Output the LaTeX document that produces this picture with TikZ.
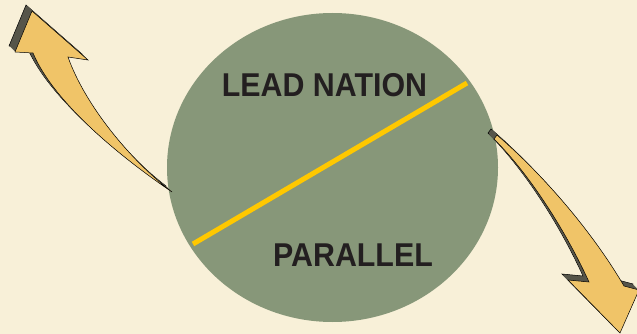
\documentclass[tikz,border=0pt]{standalone}
\usepackage{fontspec}
\setsansfont{Liberation Sans}
\usepackage{tikz}
\usetikzlibrary{shapes.geometric}
\definecolor{Paper}{HTML}{F8F0D8}
\definecolor{Sage}{HTML}{879779}
\definecolor{Amber}{HTML}{FFC800}
\definecolor{Honey}{HTML}{F0C468}
\definecolor{Umber}{HTML}{56554A}
\definecolor{Ink}{HTML}{231F20}
\newcommand{\upswoop}{(15,52) -- (32,11) -- (88,60) -- (68,57) .. controls (85,105) and (130,160) .. (172,192) .. controls (125,160) and (55,105) .. (33,53) -- cycle}
\newcommand{\downswoop}{(497,135) .. controls (540,172) and (590,228) .. (624,286) -- (639,290) -- (620,333) -- (568,280) -- (589,282) .. controls (570,240) and (535,180) .. (494,139) -- cycle}

\begin{document}
\begin{tikzpicture}[x=1pt,y=-1pt,
  label text/.style={text=Ink,inner sep=0pt,font=\sffamily\bfseries\fontsize{33}{33}\selectfont},
  arrow body/.style={fill=Honey,draw=black,line width=.5pt},
  arrow side/.style={fill=Umber,draw=black,line width=.5pt}]
\fill[Paper] (0,0) rectangle (637,334);
\useasboundingbox (0,0) rectangle (637,334);
\node[ellipse,fill=Sage,minimum width=331,minimum height=309,inner sep=0pt] (disc) at (332.5,167.5) {};
% the cut across the disc
\coordinate (cutA) at (193,244);
\coordinate (cutB) at (467,83);
\draw[Amber,line width=5pt] (cutA) -- (cutB);
\node[label text] (lead) at (324.5,85) {\scalebox{.92}[1]{LEAD NATION}};
\node[label text] (parallel) at (353,255) {\scalebox{.92}[1]{PARALLEL}};
% swooping arrows, side first
\draw[arrow side,shift={(-6,-6)}] \upswoop;
\draw[arrow side,shift={(-6,-6)}] \downswoop;
\foreach \k in {5,4,...,1}{
  \fill[Umber,shift={(-\k,-\k)}] \upswoop;
  \fill[Umber,shift={(-\k,-\k)}] \downswoop;
}
\draw[arrow body] \upswoop;
\draw[arrow body] \downswoop;
\end{tikzpicture}
\end{document}
